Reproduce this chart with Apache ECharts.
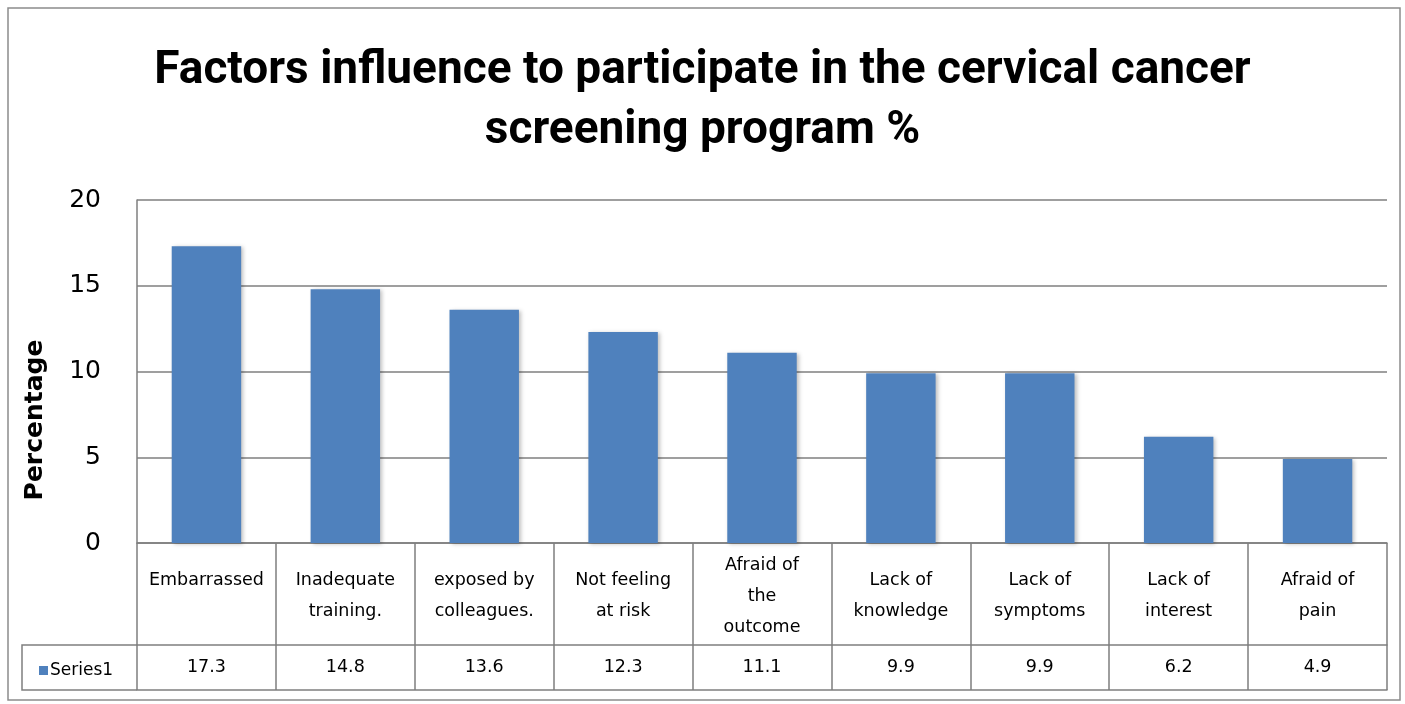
<!DOCTYPE html>
<html>
<head>
<meta charset="utf-8">
<script src="https://cdn.jsdelivr.net/npm/echarts@6/dist/echarts.min.js"></script>
<style>
  html, body { margin: 0; padding: 0; background: #fff; }
  #main { width: 1405px; height: 704px; }
</style>
</head>
<body>
<div id="main"></div>
<script type="text/javascript">
    // data
    var categories = ['Embarrassed', 'Inadequate training.', 'exposed by colleagues.', 'Not feeling at risk',
        'Afraid of the outcome', 'Lack of knowledge', 'Lack of symptoms', 'Lack of interest', 'Afraid of pain'];
    // how each category wraps inside the table cell
    var categoryLabels = ['Embarrassed\n\u00a0', 'Inadequate\ntraining.', 'exposed by\ncolleagues.', 'Not feeling\nat risk',
        'Afraid of\nthe\noutcome', 'Lack of\nknowledge', 'Lack of\nsymptoms', 'Lack of\ninterest', 'Afraid of\npain'];
    var values = [17.3, 14.8, 13.6, 12.3, 11.1, 9.9, 9.9, 6.2, 4.9];
    var yTicks = [0, 5, 10, 15, 20];

    var G = {left: 137, right: 18, top: 200, bottom: 161};
    var lineColor = '#7f7f7f';
    var font = 'Tahoma, "DejaVu Sans", sans-serif';

    var myChart = echarts.init(document.getElementById('main'));
    var option = {
        title: {
            text: 'Factors influence to participate in the cervical cancer\nscreening program %',
            left: 'center',
            top: 36,
            textStyle: {fontFamily: 'Roboto', fontWeight: 'bold', fontSize: 46, lineHeight: 60, color: '#000'}
        },
        legend: {
            left: 34,
            top: 657,
            icon: 'rect',
            itemWidth: 9,
            itemHeight: 9,
            itemGap: 2,
            data: ['Series1'],
            textStyle: {fontFamily: font, fontSize: 17, color: '#000', padding: [0, 0, 0, -3]}
        },
        grid: G,
        xAxis: [
            {
                type: 'category',
                data: categoryLabels,
                axisLine: {show: true, lineStyle: {color: lineColor, width: 1.5}},
                axisTick: {show: true, length: 147, lineStyle: {color: lineColor, width: 1.5}},
                axisLabel: {
                    margin: 53, verticalAlign: 'middle', interval: 0,
                    fontFamily: font, fontSize: 17.5, lineHeight: 31, color: '#000'
                }
            },
            {
                type: 'category',
                position: 'bottom',
                offset: 102,
                data: values.map(function (v) { return v.toFixed(1); }),
                axisLine: {show: true, lineStyle: {color: lineColor, width: 1.5}},
                axisTick: {show: false},
                axisLabel: {margin: 22, verticalAlign: 'middle', interval: 0, fontFamily: font, fontSize: 17.5, color: '#000'}
            },
            {
                type: 'category',
                position: 'bottom',
                offset: 147,
                data: categories,
                axisLine: {show: true, lineStyle: {color: lineColor, width: 1.5}},
                axisTick: {show: false},
                axisLabel: {show: false}
            }
        ],
        yAxis: {
            type: 'value',
            min: yTicks[0],
            max: yTicks[yTicks.length - 1],
            interval: 5,
            axisLine: {show: true, lineStyle: {color: lineColor, width: 1.5}},
            axisTick: {show: false},
            axisLabel: {margin: 36, fontFamily: font, fontSize: 25, color: '#000'},
            splitLine: {lineStyle: {color: lineColor, width: 1.5}}
        },
        series: [
            {
                name: 'Series1',
                type: 'bar',
                data: values,
                barWidth: '50%',
                itemStyle: {
                    color: '#4f81bd',
                    shadowColor: 'rgba(0,0,0,0.25)',
                    shadowBlur: 4,
                    shadowOffsetX: 2,
                    shadowOffsetY: 1
                }
            }
        ],
        graphic: [
            // outer chart border
            {type: 'rect', shape: {x: 8, y: 8, width: 1392, height: 692}, style: {fill: null, stroke: '#8c8c8c', lineWidth: 1.5}},
            // y axis title
            {
                type: 'text', x: 35, y: 420, rotation: Math.PI / 2,
                style: {text: 'Percentage', fontFamily: font, fontWeight: 'bold', fontSize: 25, fill: '#000',
                    align: 'center', verticalAlign: 'middle'}
            },
            // left cell of the data table (legend key)
            {type: 'polyline', shape: {points: [[G.left, 645], [22, 645], [22, 690], [G.left, 690]]},
                style: {fill: null, stroke: lineColor, lineWidth: 1.5}}
        ]
    };
    myChart.setOption(option);
</script>
</body>
</html>
